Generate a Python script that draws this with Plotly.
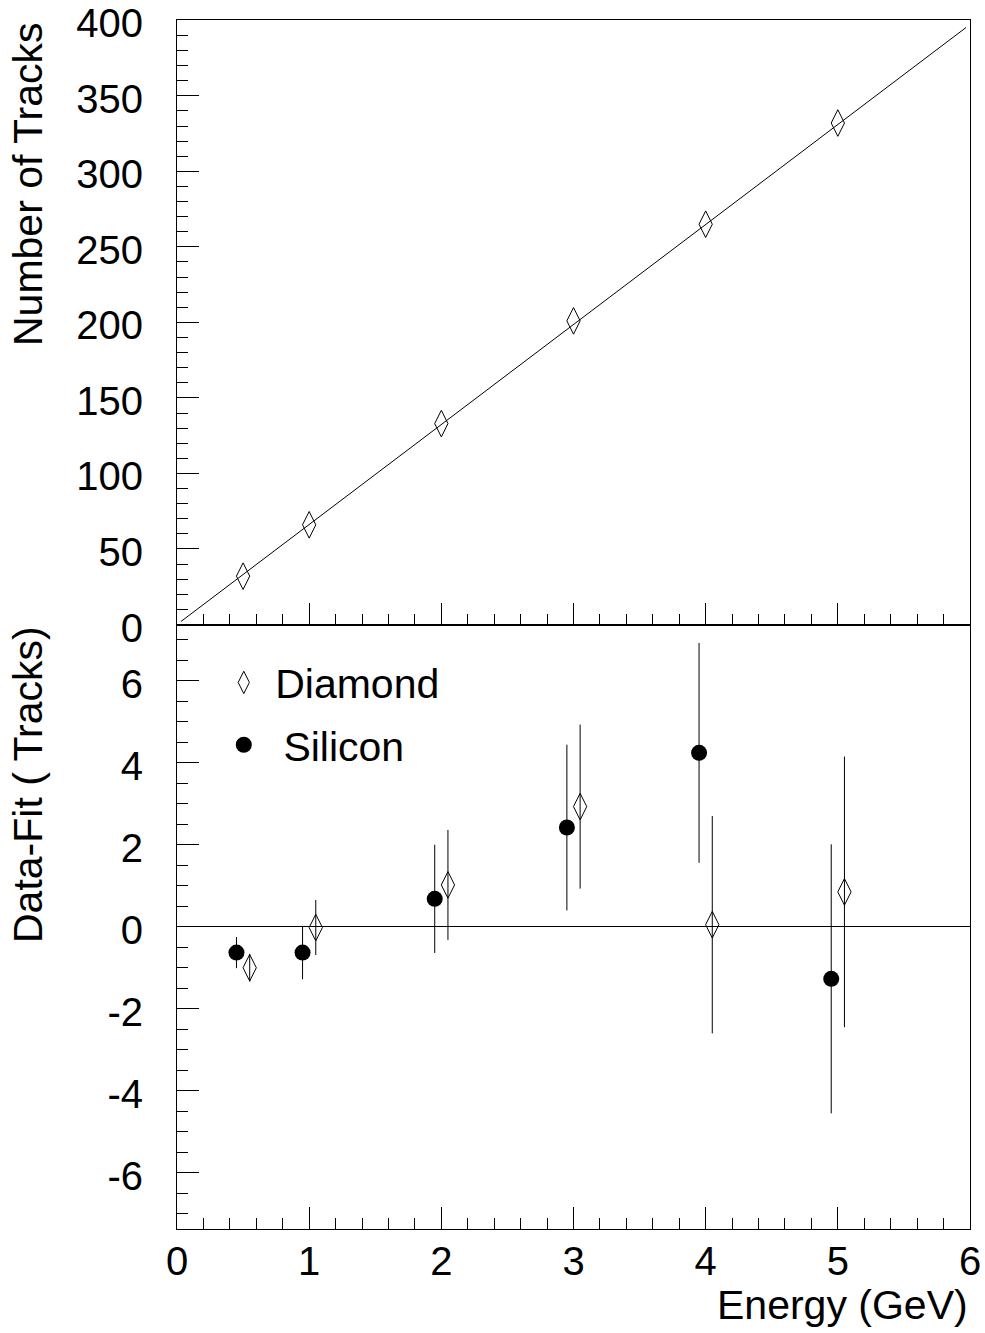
import plotly.graph_objects as go
from plotly.subplots import make_subplots

# ---- data ----
energy = [0.5, 1.0, 2.0, 3.0, 4.0, 5.0]
diamond_tracks = [32, 66, 133, 201, 265, 332]

fit_slope = 66.2
fit_x_range = [0.03, 5.97]

silicon_x = [0.45, 0.95, 1.95, 2.95, 3.95, 4.95]
silicon_res = [-0.63, -0.63, 0.68, 2.42, 4.24, -1.27]
silicon_err = [0.38, 0.65, 1.32, 2.02, 2.68, 3.28]

diamond_x = [0.55, 1.05, 2.05, 3.05, 4.05, 5.05]
diamond_res = [-1.0, -0.02, 1.02, 2.93, 0.05, 0.85]
diamond_err = [0.34, 0.67, 1.34, 2.0, 2.65, 3.3]

x_tickvals = [0, 1, 2, 3, 4, 5, 6]
x_ticktext = ["0", "1", "2", "3", "4", "5", "6"]
top_tickvals = [0, 50, 100, 150, 200, 250, 300, 350, 400]
top_ticktext = ["0", "50", "100", "150", "200", "250", "300", "350", "400"]
res_tickvals = [-6, -4, -2, 0, 2, 4, 6]
res_ticktext = ["-6", "-4", "-2", "0", "2", "4", "6"]

FONT = "Liberation Sans, Arial, Helvetica, sans-serif"
FS_TICK = 40
FS_TITLE = 41

W, H = 985, 1333

fig = make_subplots(rows=2, cols=1, shared_xaxes=False, vertical_spacing=0)

fit_y = [fit_slope * x for x in fit_x_range]
fig.add_trace(go.Scatter(x=fit_x_range, y=fit_y, mode="lines",
                         line=dict(color="black", width=1), showlegend=False,
                         hoverinfo="skip", cliponaxis=False), row=1, col=1)
fig.add_trace(go.Scatter(x=energy, y=diamond_tracks, mode="markers",
                         marker=dict(symbol="diamond-tall-open", size=19, color="black",
                                     line=dict(width=1, color="black")),
                         showlegend=False), row=1, col=1)

fig.add_trace(go.Scatter(x=diamond_x, y=diamond_res, mode="markers",
                         name="\u00a0Diamond", legendgroup="d",
                         marker=dict(symbol="diamond-tall-open", size=19, color="black",
                                     line=dict(width=1, color="black")),
                         error_y=dict(type="data", array=diamond_err, color="black",
                                      thickness=1, width=0)), row=2, col=1)
fig.add_trace(go.Scatter(x=silicon_x, y=silicon_res, mode="markers",
                         name="\u00a0\u2009Silicon", legendgroup="s",
                         marker=dict(symbol="circle", size=16, color="black"),
                         error_y=dict(type="data", array=silicon_err, color="black",
                                      thickness=1, width=0)), row=2, col=1)

axis_common = dict(showline=True, linecolor="black", linewidth=1, mirror=True,
                   ticks="inside", tickcolor="black", tickwidth=1, showgrid=False,
                   automargin=False, ticklabeloverflow="allow",
                   tickfont=dict(family=FONT, size=FS_TICK, color="black"))

x_minor = [i * 0.2 for i in range(31)]
fig.update_xaxes(range=[0, 6], tickmode="array", tickvals=x_tickvals, ticktext=x_ticktext,
                 ticklen=22, ticklabelstandoff=-3,
                 minor=dict(tickmode="array", tickvals=x_minor, ticklen=11, ticks="inside",
                            tickcolor="black"),
                 zeroline=False, **axis_common)
fig.update_xaxes(showticklabels=False, row=1, col=1)

fig.update_yaxes(range=[0, 400.2], tickmode="array", tickvals=top_tickvals,
                 ticktext=top_ticktext, ticklen=22, ticklabelstandoff=25, ticklabelshift=3,
                 minor=dict(tickmode="array", tickvals=list(range(0, 401, 10)), ticklen=11,
                            ticks="inside", tickcolor="black"),
                 zeroline=False, row=1, col=1, **axis_common)
fig.update_yaxes(range=[-7.37, 7.37], tickmode="array", tickvals=res_tickvals,
                 ticktext=res_ticktext, ticklen=22, ticklabelstandoff=25, ticklabelshift=3,
                 minor=dict(tickmode="array", tickvals=[i * 0.5 for i in range(-14, 15)],
                            ticklen=11, ticks="inside", tickcolor="black"),
                 zeroline=True, zerolinecolor="black", zerolinewidth=1,
                 row=2, col=1, **axis_common)

fig.update_layout(
    width=W, height=H,
    margin=dict(l=177, r=15, t=20, b=104, autoexpand=False),
    paper_bgcolor="white", plot_bgcolor="white",
    font=dict(family=FONT, size=FS_TITLE, color="black"),
    legend=dict(x=0.059, y=0.4795, xanchor="left", yanchor="top", tracegroupgap=6,
                bgcolor="rgba(0,0,0,0)", font=dict(family=FONT, size=FS_TITLE, color="black")),
    annotations=[
        dict(text="Number of Tracks", textangle=-90, xref="paper", yref="paper",
             x=0, y=1, xanchor="center", yanchor="top", xshift=-149, showarrow=False,
             font=dict(family=FONT, size=FS_TITLE, color="black")),
        dict(text="Data-Fit ( Tracks)", textangle=-90, xref="paper", yref="paper",
             x=0, y=0.5, xanchor="center", yanchor="top", xshift=-149, showarrow=False,
             font=dict(family=FONT, size=FS_TITLE, color="black")),
        dict(text="Energy (GeV)", xref="paper", yref="paper",
             x=1, y=0, xanchor="right", yanchor="middle", yshift=-76, showarrow=False,
             font=dict(family=FONT, size=FS_TITLE, color="black")),
    ],
)

fig.write_html("out.html", config={"displayModeBar": False},
               post_script="document.body.style.margin='0';document.body.style.overflow='hidden';")
